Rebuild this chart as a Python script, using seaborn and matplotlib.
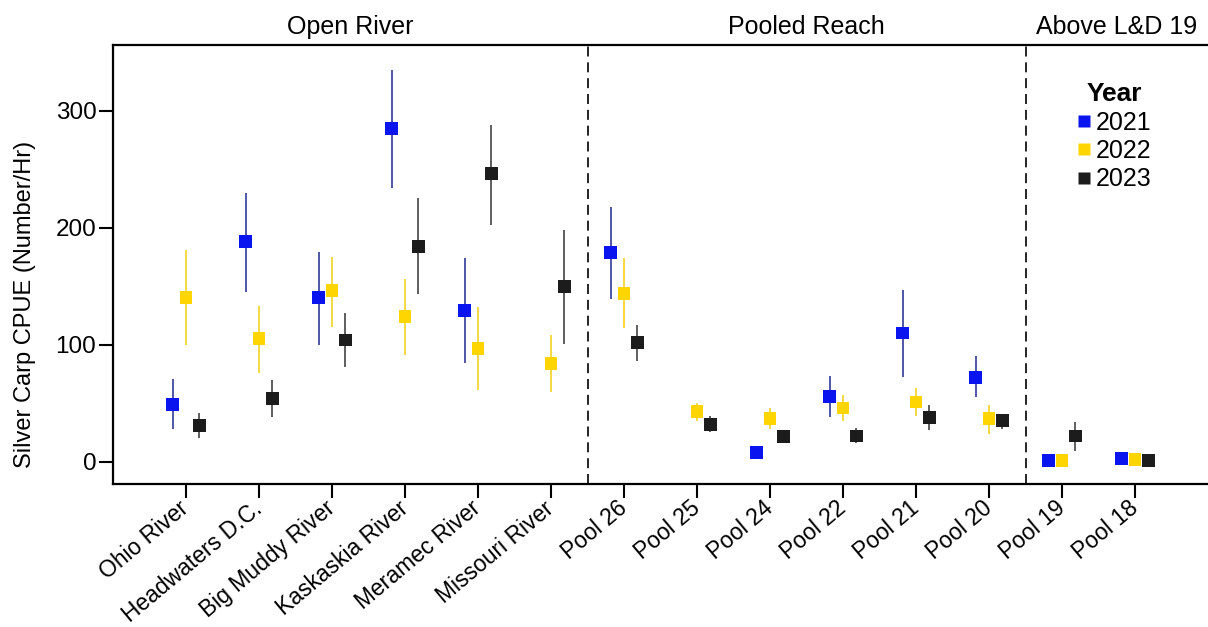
import numpy as np
import pandas as pd
import matplotlib
matplotlib.use("Agg")
import matplotlib.pyplot as plt
import matplotlib.transforms as mtransforms
from matplotlib.lines import Line2D
import seaborn as sns

nan = np.nan

sites = ["Ohio River", "Headwaters D.C.", "Big Muddy River", "Kaskaskia River",
         "Meramec River", "Missouri River", "Pool 26", "Pool 25", "Pool 24",
         "Pool 22", "Pool 21", "Pool 20", "Pool 19", "Pool 18"]
years = ["2021", "2022", "2023"]

cpue_2021 = [49, 188, 140, 285, 129, nan, 179, nan, 8, 56, 110, 72, 1, 2.5]
lo_2021 = [28, 145, 100, 234, 84, nan, 139, nan, nan, 38.5, 72, 55, nan, nan]
hi_2021 = [71, 230, 179, 335, 174, nan, 218, nan, nan, 73, 147, 90, nan, nan]

cpue_2022 = [140.5, 105, 146, 124, 97, 84, 144, 43, 37, 46, 51, 37, 1, 2]
lo_2022 = [100, 76, 115, 91, 61, 60, 114, 35, 28, 35, 39, 24, nan, nan]
hi_2022 = [181, 133, 175, 156, 132, 108, 174, 50, 46, 57, 63, 48.5, nan, nan]

cpue_2023 = [31, 54, 104, 184, 246, 150, 102, 32, 21.5, 22, 38, 35, 22, 1]
lo_2023 = [20, 38.5, 81, 143, 202, 101, 86, 25, 16, 16, 27, 28, 9.5, nan]
hi_2023 = [42, 70, 127, 225, 288, 198, 117, 39, 27, 28.5, 48.5, 41, 34, nan]

groups = ["Open River", "Pooled Reach", "Above L&D 19"]
group_bounds = [(-1, 5.5), (5.5, 11.5), (11.5, 14)]

y_ticks = [0, 100, 200, 300]

marker_colors = {"2021": "#0a14ee", "2022": "#ffd500", "2023": "#1c1c1c"}
line_colors = {"2021": "#1f2a90", "2022": "#f2cf10", "2023": "#333333"}
offsets = {"2021": -0.18, "2022": 0.0, "2023": 0.18}

vals = {"2021": (cpue_2021, lo_2021, hi_2021),
        "2022": (cpue_2022, lo_2022, hi_2022),
        "2023": (cpue_2023, lo_2023, hi_2023)}

rows = []
for yr in years:
    c, lo, hi = vals[yr]
    for i, s in enumerate(sites):
        rows.append({"site": s, "year": yr, "xpos": i + offsets[yr],
                     "cpue": c[i], "lo": lo[i], "hi": hi[i]})
df = pd.DataFrame(rows)

sns.set_style("white")
plt.rcParams["font.family"] = ["Liberation Sans", "DejaVu Sans"]
plt.rcParams["text.color"] = "black"
plt.rcParams["axes.labelcolor"] = "black"
plt.rcParams["xtick.color"] = "black"
plt.rcParams["ytick.color"] = "black"

fig = plt.figure(figsize=(12.08, 6.27), dpi=100)
ax = fig.add_axes([113 / 1208, 1 - 484 / 627, 1 - 113 / 1208, (484 - 45) / 627])

for yr in years:
    d = df[(df["year"] == yr) & df["lo"].notna()]
    ax.vlines(d["xpos"], d["lo"], d["hi"], color=line_colors[yr], lw=1.1, zorder=2)

sns.scatterplot(data=df.dropna(subset=["cpue"]), x="xpos", y="cpue", hue="year",
                palette=marker_colors, marker="s", s=85, edgecolor="none",
                linewidth=0, legend=False, ax=ax, zorder=3)

ax.axvline(5.5, color="black", lw=1.2, ls=(0, (6, 3.5)), zorder=1)
ax.axvline(11.5, color="black", lw=1.2, ls=(0, (6, 3.5)), zorder=1)

ax.set_xlim(-1, 14)
ax.set_ylim(-19, 356)
ax.set_xticks(range(len(sites)))
ax.set_xticklabels(sites, rotation=40, ha="right", va="center",
                   rotation_mode="anchor", fontsize=16.5)
ax.set_yticks(y_ticks)
ax.set_yticklabels([str(t) for t in y_ticks], fontsize=17.5)
ax.tick_params(axis="both", direction="out", length=10, width=1.5, color="black",
               bottom=True, left=True)
ax.tick_params(axis="y", pad=2)
ax.tick_params(axis="x", pad=5.5)
ax.set_xlabel("")
ax.set_ylabel("Silver Carp CPUE (Number/Hr)", fontsize=17)
ax.yaxis.set_label_coords(-0.07, 0.408)

for side in ["left", "bottom", "top"]:
    ax.spines[side].set_visible(True)
    ax.spines[side].set_linewidth(1.6)
    ax.spines[side].set_color("black")
ax.spines["right"].set_visible(False)

trans = mtransforms.blended_transform_factory(ax.transData, ax.transAxes)
for g, (a, b) in zip(groups, group_bounds):
    ax.text((a + b) / 2, 1.04, g, transform=trans, ha="center", va="center",
            fontsize=18)

handles = [Line2D([0], [0], marker="s", color="none", markerfacecolor=marker_colors[y],
                  markeredgecolor="none", markersize=8, label=y) for y in years]
leg = ax.legend(handles=handles, title="Year", loc="upper left",
                bbox_to_anchor=(1062 / 1208, 1 - 67 / 627), bbox_transform=fig.transFigure,
                frameon=False, fontsize=18, title_fontsize=19,
                handlelength=0.55, handletextpad=0.2, labelspacing=0.18,
                borderpad=0.1)
leg.get_title().set_fontweight("bold")

fig.savefig("out.png", dpi=100)
